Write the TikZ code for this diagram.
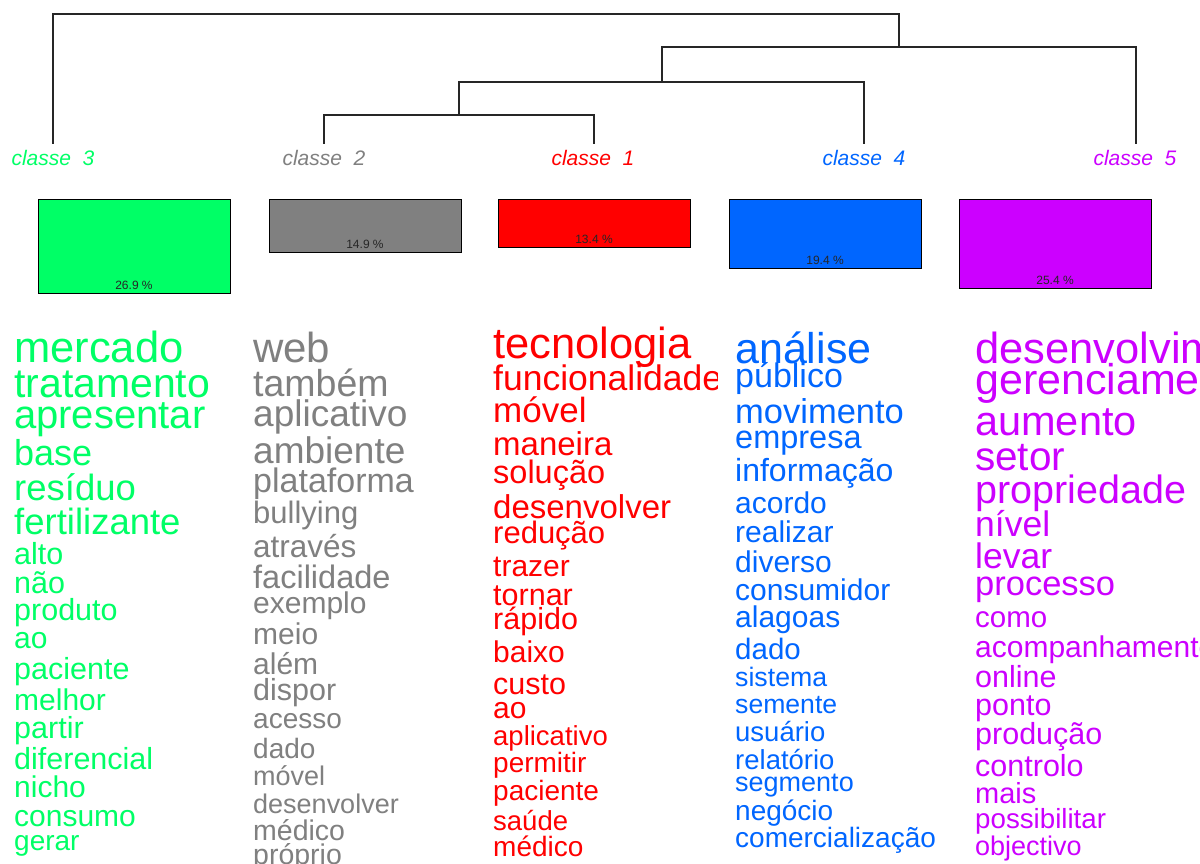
\documentclass[tikz,border=0pt]{standalone}
\usepackage{fontspec}
\setmainfont{Liberation Sans}
\definecolor{cgreen}{HTML}{00FF66}
\definecolor{cgray}{HTML}{808080}
\definecolor{cred}{HTML}{FF0000}
\definecolor{cblue}{HTML}{0066FF}
\definecolor{cpurple}{HTML}{CC00FF}
\tikzset{
  dend/.style={draw=black!85, line width=1.3pt},
  lbl/.style={anchor=base, inner sep=0pt, font=\itshape\fontsize{21}{21}\selectfont},
  clbox/.style={draw=black, line width=1.3pt, anchor=north west, inner sep=0pt, minimum width=192pt},
  pct/.style={inner sep=0pt, anchor=base, font=\fontsize{12}{12}\selectfont, text=black!85},
  word/.style={anchor=base west, inner sep=0pt},
}
\begin{document}
\begin{tikzpicture}[x=1pt,y=-1pt]
\useasboundingbox (0,0) rectangle (1200,864);
\clip (0,0) rectangle (1200,864);
\fill[white] (0,0) rectangle (1200,864);

% class labels
\node[lbl, text=cgreen]  (c3) at (53,166)   {classe\ \ 3};
\node[lbl, text=cgray]   (c2) at (324,166)  {classe\ \ 2};
\node[lbl, text=cred]    (c1) at (593,166)  {classe\ \ 1};
\node[lbl, text=cblue]   (c4) at (864,166)  {classe\ \ 4};
\node[lbl, text=cpurple] (c5) at (1135,166) {classe\ \ 5};

% dendrogram
\coordinate (t3) at (53,144);
\coordinate (t2) at (324,144);
\coordinate (t1) at (594,144);
\coordinate (t4) at (864,144);
\coordinate (t5) at (1136,144);
\coordinate (j21) at (459,115);
\coordinate (j214) at (662,82);
\coordinate (j2145) at (899,47);
\coordinate (jroot) at (0,14);
\draw[dend] (t2) -- (t2|-j21) -- (t1|-j21) -- (t1);
\draw[dend] (j21) -- (j21|-j214) -- (t4|-j214) -- (t4);
\draw[dend] (j214) -- (j214|-j2145) -- (t5|-j2145) -- (t5);
\draw[dend] (t3) -- (t3|-jroot) -- (j2145|-jroot) -- (j2145);

% boxes
\node[clbox, fill=cgreen,  minimum height=94pt] (b3) at (38,199) {};
\node[clbox, fill=cgray,   minimum height=53pt] (b2) at (269,199) {};
\node[clbox, fill=cred,    minimum height=48pt] (b1) at (498,199) {};
\node[clbox, fill=cblue,   minimum height=69pt] (b4) at (729,199) {};
\node[clbox, fill=cpurple, minimum height=89pt] (b5) at (959,199) {};
\node[pct] (p3) at (134,289) {26.9 \%};
\node[pct] (p2) at (365,248) {14.9 \%};
\node[pct] (p1) at (594,243) {13.4 \%};
\node[pct] (p4) at (825,264) {19.4 \%};
\node[pct] (p5) at (1055,284) {25.4 \%};

% words: class 3
\foreach \w/\s/\b [count=\i] in {mercado/43.5/362, tratamento/41/397, apresentar/40/428, base/36/465, resíduo/36.5/500, fertilizante/36.5/534, alto/30.5/564, não/30.5/593, produto/30.5/620, ao/30/648, paciente/30.5/679, melhor/30/710, partir/30.5/738, diferencial/30.5/769, nicho/30/797, consumo/30/826, gerar/28/850}
  \node[word, text=cgreen, font=\fontsize{\s}{\s}\selectfont] (g\i) at (14,\b) {\w};

% class 2
\foreach \w/\s/\b [count=\i] in {web/42/362, também/37.5/396, aplicativo/37/426, ambiente/37/463, plataforma/34/492, bullying/31/523, através/31.5/557, facilidade/32.5/588, exemplo/30/613, meio/30/644, além/30/674, dispor/30.5/700, acesso/28/728, dado/28/758, móvel/27/785, desenvolver/27/813, médico/28.5/840, próprio/28.5/864}
  \node[word, text=cgray, font=\fontsize{\s}{\s}\selectfont] (k\i) at (253,\b) {\w};

% class 1
\begin{scope}
\clip (480,300) rectangle (717,864);
\foreach \w/\s/\b [count=\i] in {tecnologia/43.5/358, funcionalidade/35.5/390, móvel/35/422, maneira/33/455, solução/32.5/483, desenvolver/33/518, redução/31/543, trazer/30/576, tornar/30.5/605, rápido/30.5/629, baixo/30/662, custo/30.5/694, ao/30/718, aplicativo/27.5/745, permitir/28/772, paciente/28/800, saúde/27.5/830, médico/28/856}
  \node[word, text=cred, font=\fontsize{\s}{\s}\selectfont] (r\i) at (493,\b) {\w};
\end{scope}

% class 4
\foreach \w/\s/\b [count=\i] in {análise/43/363, público/34/387, movimento/34.5/423, empresa/32.5/448, informação/32/481, acordo/30/513, realizar/30/542, diverso/30/572, consumidor/30/600, alagoas/30/627, dado/29.5/659, sistema/26.7/686, semente/26.6/713, usuário/27.5/741, relatório/27.5/769, segmento/27/791, negócio/28/820, comercialização/28/847}
  \node[word, text=cblue, font=\fontsize{\s}{\s}\selectfont] (u\i) at (735,\b) {\w};

% class 5
\foreach \w/\s/\b [count=\i] in {desenvolvimento/43.5/363, gerenciamento/43/394, aumento/41.5/435, setor/40.5/470, propriedade/39.5/503, nível/35.5/536, levar/35.5/568, processo/34.5/595, como/29.5/627, acompanhamento/30/657, online/30.5/687, ponto/30.5/715, produção/30.5/744, controlo/30.5/776, mais/29/803, possibilitar/27.7/828, objectivo/27/855}
  \node[word, text=cpurple, font=\fontsize{\s}{\s}\selectfont] (v\i) at (975,\b) {\w};
\end{tikzpicture}
\end{document}
